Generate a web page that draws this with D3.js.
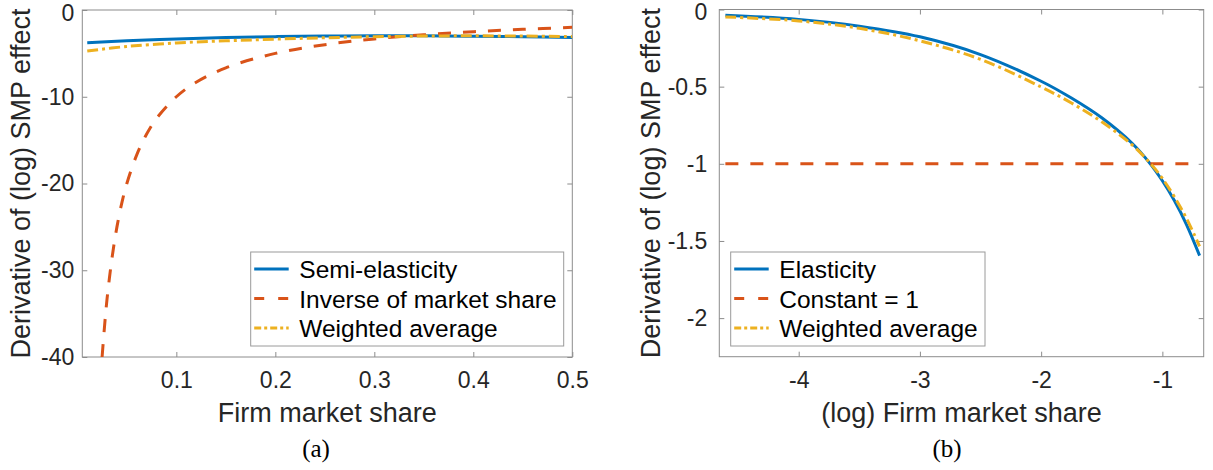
<!DOCTYPE html>
<html>
<head>
<meta charset="utf-8">
<script src="https://cdn.jsdelivr.net/npm/d3@7"></script>
<style>
  body { margin: 0; background: #fff; }
  svg { display: block; }
  .tick text { font-family: "Liberation Sans", Arial, sans-serif; fill: #262626; }
</style>
</head>
<body>
<svg id="chart" width="1213" height="470"></svg>
<script>
// Panel (a): derivative vs firm market share
const shareA = [0.01, 0.05, 0.1, 0.15, 0.2, 0.25, 0.3, 0.35, 0.4, 0.45, 0.5];
const semiElasticity = [-3.77, -3.55, -3.35, -3.18, -3.07, -3.0, -2.97, -2.98, -3.02, -3.08, -3.17];
const weightedA = [-4.73, -4.2, -3.8, -3.55, -3.36, -3.2, -3.08, -3.0, -2.98, -3.0, -3.07];
const shareInv = [0.025, 0.0275, 0.03, 0.035, 0.04, 0.045, 0.05, 0.06, 0.07, 0.08, 0.1, 0.12, 0.15, 0.2, 0.25, 0.3, 0.35, 0.4, 0.45, 0.5];
const inverseShare = [-40, -36.4, -33.3, -28.6, -25, -22.2, -20, -16.7, -14.3, -12.5, -10, -8.33, -6.67, -5, -4, -3.33, -2.86, -2.5, -2.22, -2];
const ticksXA = [0.1, 0.2, 0.3, 0.4, 0.5];
const ticksYA = [0, -10, -20, -30, -40];
const legendA = ["Semi-elasticity", "Inverse of market share", "Weighted average"];

// Panel (b): derivative vs (log) firm market share
const logShare = [-4.605, -4.0, -3.5, -3.0, -2.5, -2.0, -1.75, -1.5, -1.25, -1.1, -1.0, -0.9, -0.8, -0.693];
const elasticity = [-0.037, -0.064, -0.108, -0.177, -0.292, -0.465, -0.574, -0.702, -0.867, -1.0, -1.11, -1.24, -1.395, -1.595];
const weightedB = [-0.048, -0.074, -0.122, -0.203, -0.323, -0.502, -0.606, -0.728, -0.877, -0.997, -1.095, -1.215, -1.355, -1.535];
const logShareConst = [-4.605, -0.693];
const constantOne = [-1, -1];
const ticksXB = [-4, -3, -2, -1];
const ticksYB = [0, -0.5, -1, -1.5, -2];
const legendB = ["Elasticity", "Constant = 1", "Weighted average"];

const colors = ["#0072BD", "#D95319", "#EDB120"];
const dashes = [null, "13,12", "11,4,3,4"];
const legendDashes = [null, "10,14", "7,3,3,3"];
const font = "'Liberation Sans', Arial, Helvetica, sans-serif";

const svg = d3.select("#chart");

function drawPanel(p) {
    const x = d3.scaleLinear().domain(p.xDomain).range([p.left, p.right]);
    const y = d3.scaleLinear().domain(p.yDomain).range([p.bottom, p.top]);
    const g = svg.append("g");

    g.append("clipPath").attr("id", "clip" + p.id)
        .append("rect")
        .attr("x", p.left).attr("y", p.top)
        .attr("width", p.right - p.left).attr("height", p.bottom - p.top);

    // axes with inward ticks, mirrored on top and right
    const fmt = d => String(d);
    g.append("g").attr("transform", `translate(0,${p.bottom})`)
        .call(d3.axisBottom(x).tickValues(p.xTicks).tickFormat(fmt).tickSizeInner(-5).tickSizeOuter(0).tickPadding(15));
    g.append("g").attr("transform", `translate(0,${p.top})`)
        .call(d3.axisTop(x).tickValues(p.xTicks).tickFormat("").tickSizeInner(-5).tickSizeOuter(0));
    const yAxis = g.append("g").attr("transform", `translate(${p.left},0)`)
        .call(d3.axisLeft(y).tickValues(p.yTicks).tickFormat(fmt).tickSizeInner(-5).tickSizeOuter(0).tickPadding(p.yPad));
    g.append("g").attr("transform", `translate(${p.right},0)`)
        .call(d3.axisRight(y).tickValues(p.yTicks).tickFormat("").tickSizeInner(-5).tickSizeOuter(0));
    g.selectAll(".domain").remove();
    g.selectAll(".tick line").attr("stroke", "#8c8c8c");
    g.selectAll(".tick text").attr("font-size", 23).attr("font-family", font);
    // keep the top "0" label inside the page
    yAxis.selectAll(".tick text").filter(d => d === 0).attr("y", 3);

    g.append("rect")
        .attr("x", p.left).attr("y", p.top)
        .attr("width", p.right - p.left).attr("height", p.bottom - p.top)
        .attr("fill", "none").attr("stroke", "#8c8c8c").attr("stroke-width", 1);

    const line = d3.line()
        .x(d => x(d[0]))
        .y(d => y(d[1]))
        .curve(d3.curveCatmullRom.alpha(0.5));

    p.series.forEach((s, i) => {
        g.append("path")
            .datum(d3.zip(s.x, s.y))
            .attr("clip-path", `url(#clip${p.id})`)
            .attr("d", line)
            .attr("fill", "none")
            .attr("stroke", colors[i])
            .attr("stroke-width", 3)
            .attr("stroke-dasharray", dashes[i]);
    });

    // axis labels
    g.append("text")
        .attr("x", (p.left + p.right) / 2).attr("y", 421.5)
        .attr("text-anchor", "middle")
        .attr("font-family", font).attr("font-size", 27).attr("fill", "#262626")
        .text(p.xLabel);
    g.append("text")
        .attr("transform", `translate(${p.yLabelX},${(p.top + p.bottom) / 2}) rotate(-90)`)
        .attr("text-anchor", "middle")
        .attr("font-family", font).attr("font-size", 27).attr("fill", "#262626")
        .text("Derivative of (log) SMP effect");

    // legend
    const lg = g.append("g");
    lg.append("rect")
        .attr("x", p.legend.x0).attr("y", 252)
        .attr("width", p.legend.x1 - p.legend.x0).attr("height", 94)
        .attr("fill", "#fff").attr("stroke", "#9a9a9a").attr("stroke-width", 1);
    const rows = [269, 298.5, 328];
    p.legend.names.forEach((name, i) => {
        lg.append("line")
            .attr("x1", p.legend.x0 + 3.5).attr("x2", p.legend.x0 + 38)
            .attr("y1", rows[i]).attr("y2", rows[i])
            .attr("stroke", colors[i]).attr("stroke-width", 3)
            .attr("stroke-dasharray", legendDashes[i]);
        lg.append("text")
            .attr("x", p.legend.x0 + 48.6).attr("y", rows[i] + 9)
            .attr("font-family", font).attr("font-size", 24.5).attr("fill", "#000")
            .text(name);
    });

    // sub caption
    g.append("text")
        .attr("x", p.caption).attr("y", 457)
        .attr("text-anchor", "middle")
        .attr("font-family", "'Liberation Serif', 'Times New Roman', serif")
        .attr("font-size", 25).attr("fill", "#000")
        .text(p.captionText);
}

drawPanel({
    id: "a",
    left: 82.3, right: 572.3, top: 10, bottom: 357,
    xDomain: [0.005, 0.5], yDomain: [-40, 0],
    xTicks: ticksXA, yTicks: ticksYA, yPad: 8,
    xLabel: "Firm market share", yLabelX: 30,
    series: [
        {x: shareA, y: semiElasticity},
        {x: shareInv, y: inverseShare},
        {x: shareA, y: weightedA}
    ],
    legend: {x0: 250.7, x1: 563.7, names: legendA},
    caption: 316, captionText: "(a)"
});

drawPanel({
    id: "b",
    left: 719.3, right: 1203.7, top: 9.5, bottom: 356.7,
    xDomain: [-4.655, -0.659], yDomain: [-2.25, 0],
    xTicks: ticksXB, yTicks: ticksYB, yPad: 12,
    xLabel: "(log) Firm market share", yLabelX: 660,
    series: [
        {x: logShare, y: elasticity},
        {x: logShareConst, y: constantOne},
        {x: logShare, y: weightedB}
    ],
    legend: {x0: 730.7, x1: 985, names: legendB},
    caption: 947, captionText: "(b)"
});
</script>
</body>
</html>
